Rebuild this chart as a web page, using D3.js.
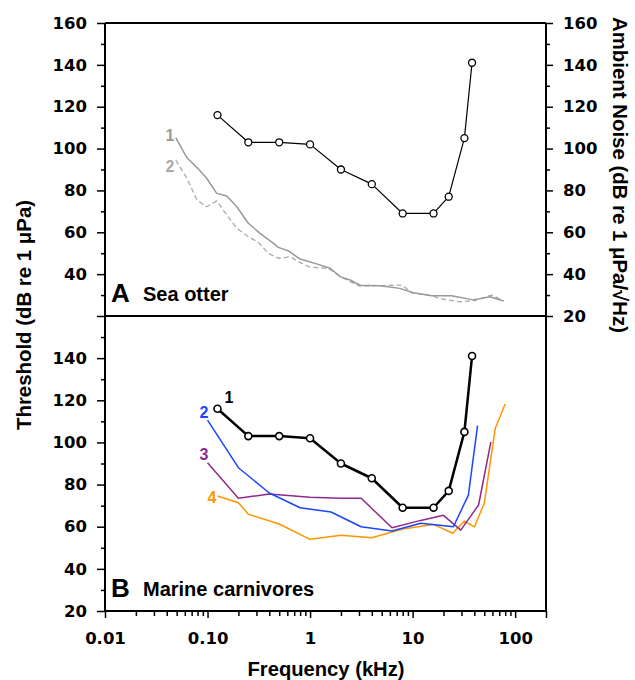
<!DOCTYPE html>
<html>
<head>
<meta charset="utf-8">
<script src="https://cdn.jsdelivr.net/npm/d3@7"></script>
<style>
  body { margin: 0; background: #fff; }
  svg text { font-family: "Liberation Sans", Arial, sans-serif; font-weight: bold; }
  svg .tick text { font-family: "DejaVu Sans", sans-serif; }
</style>
</head>
<body>
<svg id="chart" width="635" height="680"></svg>
<script>
// Sea otter audiogram (curve 1, both panels)
const otterFreq = [0.125, 0.25, 0.5, 1, 2, 4, 8, 16, 22.5, 32, 38];
const otterDb = [116, 103, 103, 102, 90, 83, 69, 69, 77, 105, 141];

// Ambient noise, panel A (1 solid, 2 dashed)
const noise1Freq = [0.049, 0.063, 0.079, 0.098, 0.123, 0.154, 0.193, 0.25, 0.325, 0.44, 0.49, 0.61, 0.8, 1.16, 1.57, 1.96, 2.46, 3.07, 4.8, 7.5, 10.2, 15.4, 24, 39, 57, 77];
const noise1Db = [105.2, 95.6, 90.9, 85.8, 78.6, 77.3, 72.2, 64.3, 59.5, 54.7, 52.8, 51.2, 47.2, 44.9, 42.8, 38.8, 37.2, 34.7, 34.5, 33.2, 31.1, 29.7, 29.7, 27.7, 29.2, 27.2];
const noise2Freq = [0.049, 0.063, 0.079, 0.098, 0.123, 0.154, 0.193, 0.25, 0.313, 0.39, 0.49, 0.64, 0.8, 1.0, 1.46, 1.63, 2.04, 2.46, 3.07, 4.8, 7.9, 9.8, 15.4, 20, 29, 39, 59, 77];
const noise2Db = [94.5, 85.8, 75.4, 72.2, 75, 68.3, 61.9, 57.9, 55.2, 50, 47.6, 48.3, 45.5, 43.3, 42.8, 41.7, 38.5, 36.4, 34.3, 34.5, 34.8, 31.1, 29.6, 28, 26.8, 27.2, 30, 27.3];

// Marine carnivores, panel B (2, 3, 4)
const c2Freq = [0.1, 0.2, 0.4, 0.8, 1.6, 3.15, 6.3, 12, 25, 35, 43];
const c2Db = [110.6, 88, 76, 69, 67, 60, 58, 61.6, 60, 75, 108];
const c3Freq = [0.1, 0.2, 0.4, 1, 2, 3.15, 6.3, 12, 20, 29.5, 44, 58];
const c3Db = [90.4, 73.5, 75.5, 74, 73.5, 73.5, 59.5, 63, 65.4, 58.4, 70.3, 100.3];
const c4Freq = [0.125, 0.2, 0.25, 0.5, 1, 2, 4, 8, 16, 24.6, 32, 40, 50, 64, 80];
const c4Db = [74.6, 71.4, 65.9, 61.3, 54, 56, 54.8, 58.9, 61.1, 56.9, 62.7, 59.9, 71.1, 106.7, 118.2];

const xTickVals = [0.01, 0.1, 1, 10, 100];
const xTickLabels = ["0.01", "0.10", "1", "10", "100"];
const topLeftTicks = [40, 60, 80, 100, 120, 140, 160];
const rightTicks = [20, 40, 60, 80, 100, 120, 140, 160];
const botLeftTicks = [20, 40, 60, 80, 100, 120, 140];
const minorY = [30, 50, 70, 90, 110, 130, 150];

const svg = d3.select("#chart");
const xL = 105, xR = 546, yT = 23, yM = 316, yB = 611;
const tickFont = 16.5;

const x = d3.scaleLog().domain([0.01, 200]).range([xL, xR]);
const yTop = d3.scaleLinear().domain([20, 160]).range([yM, yT]);
const yBot = d3.scaleLinear().domain([20, 160]).range([yB, yM]);

const minorX = [];
[0.01, 0.1, 1, 10, 100].forEach(d => {
  for (let k = 2; k <= 9; k++) if (d * k < 200) minorX.push(d * k);
});

function styleAxis(g) {
  g.select(".domain").remove();
  g.selectAll("line").attr("stroke", "#000").attr("stroke-width", 1.5);
  g.selectAll("text").attr("font-size", tickFont).attr("fill", "#000");
}

// left axes
svg.append("g").attr("transform", `translate(${xL},0)`)
  .call(d3.axisLeft(yTop).tickValues(topLeftTicks.concat([20])).tickSize(8).tickPadding(10)
    .tickFormat(d => d === 20 ? "" : d))
  .call(styleAxis);
svg.append("g").attr("transform", `translate(${xL},0)`)
  .call(d3.axisLeft(yTop).tickValues(minorY).tickSize(4).tickFormat(""))
  .call(styleAxis);
svg.append("g").attr("transform", `translate(${xL},0)`)
  .call(d3.axisLeft(yBot).tickValues(botLeftTicks).tickSize(8).tickPadding(10))
  .call(styleAxis);
svg.append("g").attr("transform", `translate(${xL},0)`)
  .call(d3.axisLeft(yBot).tickValues(minorY).tickSize(4).tickFormat(""))
  .call(styleAxis);

// right axis (top panel only)
svg.append("g").attr("transform", `translate(${xR},0)`)
  .call(d3.axisRight(yTop).tickValues(rightTicks).tickSize(7).tickPadding(10))
  .call(styleAxis);
svg.append("g").attr("transform", `translate(${xR},0)`)
  .call(d3.axisRight(yTop).tickValues(minorY).tickSize(4).tickFormat(""))
  .call(styleAxis);

// bottom axis
svg.append("g").attr("transform", `translate(0,${yB})`)
  .call(d3.axisBottom(x).tickValues(xTickVals.concat([200])).tickSize(7).tickPadding(14)
    .tickFormat(d => { const i = xTickVals.indexOf(d); return i < 0 ? "" : xTickLabels[i]; }))
  .call(styleAxis);
svg.append("g").attr("transform", `translate(0,${yB})`)
  .call(d3.axisBottom(x).tickValues(minorX).tickSize(5).tickFormat(""))
  .call(styleAxis);

// frame
const frame = svg.append("g").attr("stroke", "#000").attr("stroke-width", 2).attr("fill", "none");
frame.append("line").attr("x1", xL).attr("x2", xL).attr("y1", yT).attr("y2", yB);
frame.append("line").attr("x1", xR).attr("x2", xR).attr("y1", yT).attr("y2", yB);
frame.append("line").attr("x1", xL).attr("x2", xR).attr("y1", yT).attr("y2", yT);
frame.append("line").attr("x1", xL).attr("x2", xR).attr("y1", yM).attr("y2", yM);
frame.append("line").attr("x1", xL).attr("x2", xR).attr("y1", yB).attr("y2", yB);

function drawLine(freq, db, y, color, width, dash) {
  const pts = freq.map((f, i) => [f, db[i]]);
  svg.append("path").datum(pts)
    .attr("fill", "none").attr("stroke", color).attr("stroke-width", width)
    .attr("stroke-linejoin", "round")
    .attr("stroke-dasharray", dash || null)
    .attr("d", d3.line().x(d => x(d[0])).y(d => y(d[1])));
}
function drawDots(freq, db, y, sw) {
  svg.append("g").selectAll("circle").data(freq.map((f, i) => [f, db[i]])).join("circle")
    .attr("cx", d => x(d[0])).attr("cy", d => y(d[1])).attr("r", 3.5)
    .attr("fill", "#fff").attr("stroke", "#000").attr("stroke-width", sw);
}

// panel A
drawLine(noise2Freq, noise2Db, yTop, "#aaaaaa", 1.3, "5,3");
drawLine(noise1Freq, noise1Db, yTop, "#999999", 1.5);
drawLine(otterFreq, otterDb, yTop, "#000", 1.2);
drawDots(otterFreq, otterDb, yTop, 1.3);

// panel B
drawLine(c4Freq, c4Db, yBot, "#ff9500", 1.5);
drawLine(c3Freq, c3Db, yBot, "#8e2a8e", 1.5);
drawLine(c2Freq, c2Db, yBot, "#1b45ff", 1.5);
drawLine(otterFreq, otterDb, yBot, "#000", 2.5);
drawDots(otterFreq, otterDb, yBot, 1.6);

// curve labels
const lab = (t, px, py, color) => svg.append("text").attr("x", px).attr("y", py)
  .attr("text-anchor", "middle").attr("font-size", 16).attr("fill", color).text(t);
lab("1", 170, 141, "#999999");
lab("2", 170, 172, "#aaaaaa");
lab("1", 229, 403, "#000");
lab("2", 204, 418, "#1b45ff");
lab("3", 204, 460, "#8e2a8e");
lab("4", 212, 503, "#ff9500");

// panel letters
svg.append("text").attr("x", 111).attr("y", 302).attr("font-size", 26).text("A");
svg.append("text").attr("x", 143).attr("y", 301).attr("font-size", 20).text("Sea otter");
svg.append("text").attr("x", 111).attr("y", 597).attr("font-size", 26).text("B");
svg.append("text").attr("x", 143).attr("y", 596).attr("font-size", 20).text("Marine carnivores");

// axis titles
svg.append("text").attr("text-anchor", "middle").attr("font-size", 20.4)
  .attr("transform", "translate(31,315) rotate(-90)").text("Threshold (dB re 1 μPa)");
svg.append("text").attr("text-anchor", "middle").attr("font-size", 20.4)
  .attr("transform", "translate(613,175) rotate(90)").text("Ambient Noise (dB re 1 μPa/√Hz)");
svg.append("text").attr("x", 326).attr("y", 676).attr("text-anchor", "middle")
  .attr("font-size", 20.2).text("Frequency (kHz)");
</script>
</body>
</html>
